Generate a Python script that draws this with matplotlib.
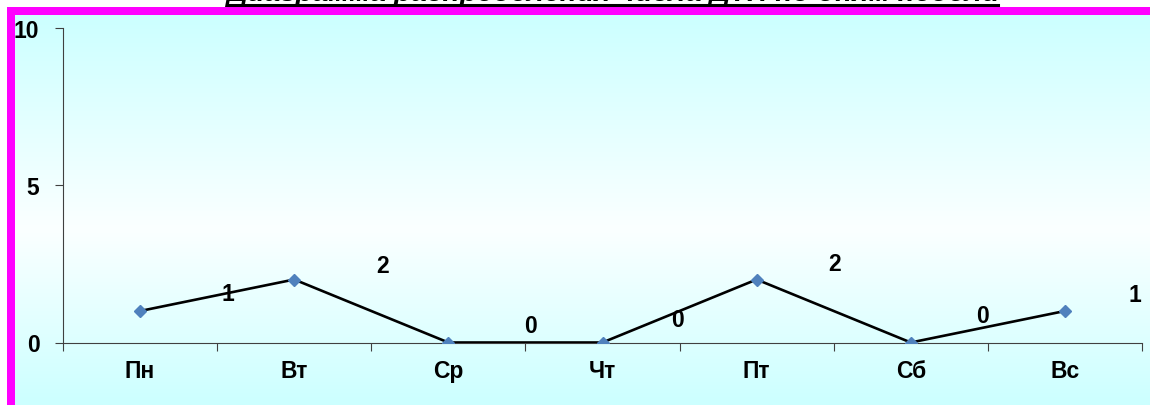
"""Диаграмма распределения числа ДТП по дням недели."""
import matplotlib

matplotlib.use("Agg")

import matplotlib.pyplot as plt
import numpy as np
from matplotlib.colors import LinearSegmentedColormap
from matplotlib.lines import Line2D
from matplotlib.patches import Rectangle

# данные
days = ["Пн", "Вт", "Ср", "Чт", "Пт", "Сб", "Вс"]
accidents = [1, 2, 0, 0, 2, 0, 1]
y_ticks = [0, 5, 10]
title = "Диаграмма распределения числа ДТП по дням недели"

# смещения подписей значений (пиксели)
label_offsets = [(88, 17), (88, 14), (82, 17), (75, 23), (78, 16), (72, 27), (70, 16)]

W, H = 1150, 406
FS = 16.5
plt.rcParams["font.family"] = ["Liberation Sans", "DejaVu Sans"]
fig = plt.figure(figsize=(W / 100, H / 100), dpi=100, facecolor="white")

# фон с градиентом
bg = fig.add_axes([15 / W, 0, 1 - 15 / W, (H - 16) / H], zorder=0)
cmap = LinearSegmentedColormap.from_list(
    "bg", [(0, "#CCFFFF"), (0.55, "#FBFFFF"), (1, "#CCFFFF")]
)
bg.imshow(np.linspace(0, 1, 256)[:, None], aspect="auto", cmap=cmap,
          extent=[0, 1, 0, 1])
bg.axis("off")

# розовая рамка
fig.patches.append(Rectangle((7 / W, 0), 8 / W, (H - 8) / H, transform=fig.transFigure,
                             facecolor="#FF00FF", edgecolor="none", zorder=1))
fig.patches.append(Rectangle((7 / W, (H - 16) / H), 1, 8 / H, transform=fig.transFigure,
                             facecolor="#FF00FF", edgecolor="none", zorder=1))

ax = fig.add_axes([63 / W, 62.5 / H, 1079 / W, 315 / H], zorder=2)
ax.set_facecolor("none")
x = np.arange(len(days))
ax.plot(x, accidents, color="black", lw=1.9, zorder=3)
ax.plot(x, accidents, ls="none", marker="D", ms=6.5, color="#4F81BD", zorder=4)

for xi, v, (dx, dy) in zip(x, accidents, label_offsets):
    ax.annotate(str(v), (xi, v), xytext=(dx, dy), textcoords="offset pixels",
                ha="center", va="center", fontsize=FS, fontweight="bold")

ax.set_xlim(-0.5, len(days) - 0.5)
ax.set_ylim(0, 10)
ax.set_yticks(y_ticks)
ax.set_yticklabels([str(t) for t in y_ticks], fontsize=FS, fontweight="bold")
ax.set_xticks(np.arange(len(days) + 1) - 0.5)
ax.set_xticklabels([])
ax.set_xticks(x, minor=True)
ax.set_xticklabels(days, minor=True, fontsize=FS, fontweight="bold")
ax.tick_params(axis="x", which="minor", length=0, pad=12)
ax.tick_params(axis="x", which="major", length=6, width=0.8, color="#404040")
ax.tick_params(axis="y", length=6, width=0.8, color="#404040", pad=11)
for s in ("top", "right"):
    ax.spines[s].set_visible(False)
for s in ("left", "bottom"):
    ax.spines[s].set_color("#404040")
    ax.spines[s].set_linewidth(0.8)

# заголовок (обрезан сверху, подчеркнут)
t = fig.text(613.5 / W, 1 - 1 / H, title, ha="center", va="baseline",
             fontsize=20, fontweight="bold", fontstyle="italic", zorder=5)
r = fig.canvas.get_renderer()
tw = t.get_window_extent(r).width
t.set_fontsize(20 * 769 / tw)
fig.lines.append(Line2D([229 / W, 998 / W], [1 - 5.5 / H] * 2, transform=fig.transFigure,
                        color="black", lw=2.2, zorder=5))

fig.savefig("out.png", dpi=100)
